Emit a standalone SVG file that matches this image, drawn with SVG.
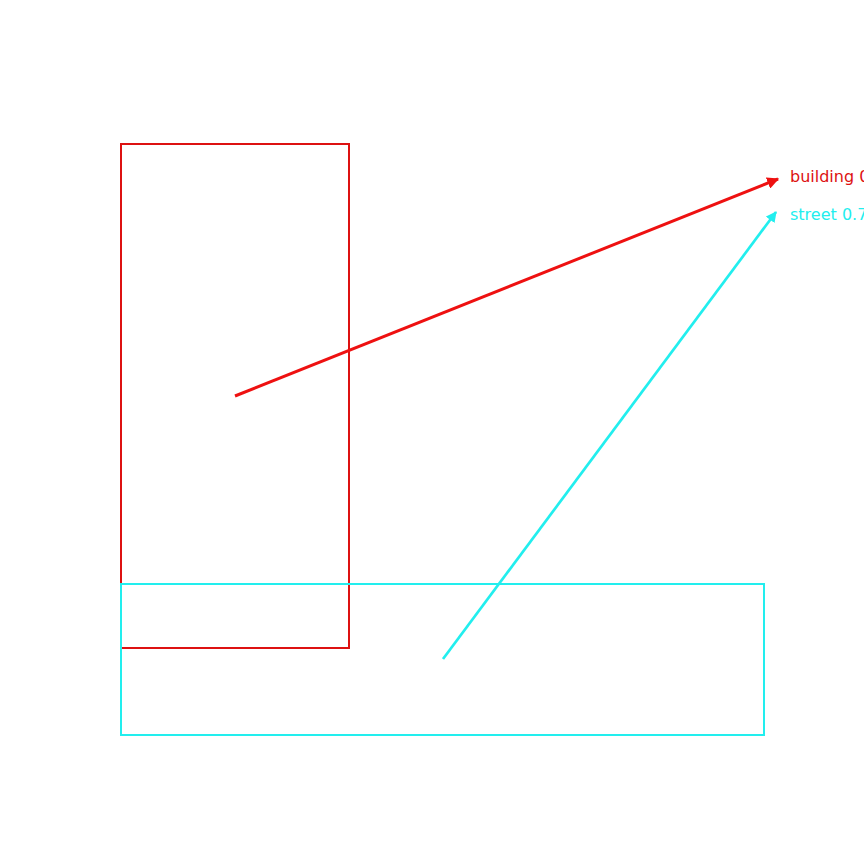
<svg xmlns="http://www.w3.org/2000/svg" width="864" height="864" viewBox="0 0 864 864">
<style>
.box{fill:none;stroke-width:2}
.lbl{font-family:"DejaVu Sans",sans-serif;font-size:16px}
</style>
<defs>
<marker id="ar" viewBox="0 0 10 10" refX="9" refY="5" markerWidth="4" markerHeight="4" orient="auto" markerUnits="strokeWidth"><path d="M0,0 L10,5 L0,10 Z" fill="#ee1111"/></marker>
<marker id="ac" viewBox="0 0 10 10" refX="9" refY="5" markerWidth="4" markerHeight="4" orient="auto" markerUnits="strokeWidth"><path d="M0,0 L10,5 L0,10 Z" fill="#22eeee"/></marker>
</defs>
<rect width="864" height="864" fill="#fff"/>
<g id="building"><rect class="box" x="121" y="144" width="228" height="504" stroke="#dd1111"/></g>
<g id="street"><rect class="box" x="121" y="584" width="643" height="151" stroke="#22eeee"/></g>
<g id="connectors">
<line x1="235" y1="396" x2="778" y2="179" stroke="#ee1111" stroke-width="3" marker-end="url(#ar)"/>
<line x1="443" y1="659" x2="776" y2="212" stroke="#22eeee" stroke-width="2.7" marker-end="url(#ac)"/>
</g>
<text class="lbl" x="790" y="181.5" fill="#dd1111">building 0.9</text>
<text class="lbl" x="790" y="220" fill="#22eeee">street 0.7</text>
</svg>
